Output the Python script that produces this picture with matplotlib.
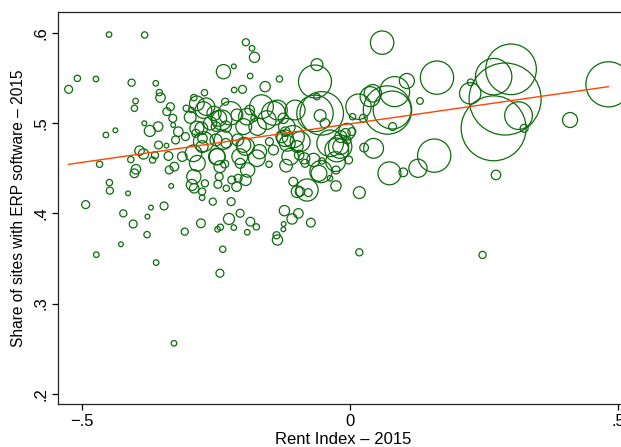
import matplotlib
matplotlib.use("Agg")
import matplotlib.pyplot as plt
import numpy as np

plt.rcParams['font.family'] = ['Liberation Sans', 'DejaVu Sans']

# rent index, share of sites with ERP, weight (number of sites)
rent = [
    -0.5255, -0.5092, -0.4745, -0.4501, -0.3836, -0.408, -0.3629, -0.3562, -0.354, -0.4006,
    -0.4028, -0.456, -0.4383, -0.3843, -0.374, -0.3585, -0.4678, -0.4095, -0.3932, -0.3999,
    -0.4028, -0.4494, -0.4486, -0.4146, -0.4937, -0.4235, -0.405, -0.4738, -0.4279, -0.3792,
    -0.3784, -0.3718, -0.3622, -0.3474, -0.3341, -0.3289, -0.3858, -0.3688, -0.3644, -0.3577,
    -0.3392, -0.3282, -0.3378, -0.3429, -0.3422, -0.3355, -0.3311, -0.3304, -0.3208, -0.3259,
    -0.3134, -0.3075, -0.306, -0.2986, -0.2919, -0.2964, -0.2882, -0.2853, -0.2919, -0.2956,
    -0.2912, -0.272, -0.269, -0.2779, -0.2764, -0.2757, -0.2712, -0.2764, -0.2764, -0.2565,
    -0.2786, -0.3089, -0.2542, -0.2506, -0.2454, -0.2506, -0.2483, -0.2432, -0.2446, -0.2469,
    -0.2476, -0.2424, -0.238, -0.2432, -0.2334, -0.2366, -0.2173, -0.2321, -0.2321, -0.2343,
    -0.2313, -0.2222, -0.2262, -0.2173, -0.221, -0.2166, -0.201, -0.1948, -0.1833, -0.1787,
    -0.1868, -0.2055, -0.1863, -0.1752, -0.1922, -0.2121, -0.2092, -0.1951, -0.1914, -0.2062,
    -0.2099, -0.1951, -0.1988, -0.2114, -0.1877, -0.1796, -0.1729, -0.1656, -0.1693, -0.1508,
    -0.1515, -0.1588, -0.136, -0.1434, -0.1321, -0.1249, -0.1212, -0.1175, -0.1197, -0.1064,
    -0.1027, -0.1064, -0.099, -0.0953, -0.099, -0.0806, -0.0783, -0.0843, -0.0857, -0.0939,
    -0.1228, -0.1086, -0.0968, -0.1358, -0.1375, -0.1249, -0.1242, -0.0735, -0.0658, -0.0621,
    -0.0621, -0.0658, -0.0532, -0.0562, -0.0473, -0.0532, -0.0584, -0.0547, -0.0377, -0.0266,
    -0.0266, -0.0273, -0.0251, -0.0177, -0.0177, -0.0089, -0.0059, 0.003, -0.003, 0.0044,
    0.017, 0.017, 0.0155, 0.0244, 0.0259, 0.0436, 0.0421, 0.0595, 0.0695, 0.0783,
    0.0828, 0.0791, 0.0732, 0.099, 0.1057, 0.1301, 0.1264, 0.1567, 0.1619, 0.2247,
    0.2239, 0.2676, 0.2676, 0.3001, 0.289, 0.3141, 0.3245, 0.272, 0.4102, 0.4819,
    0.2469,
    -0.224, -0.2396, -0.2739, -0.2862, -0.2614, -0.2862, -0.1929, -0.1556, -0.1215, -0.1276,
    -0.2366, -0.1993, -0.2739, -0.2925, -0.2489, -0.1743, -0.1433, -0.2054, -0.1183, -0.0935,
    -0.0375, -0.0188, -0.0063, -0.1121, -0.0687, 0.0371,
]
erp_share = [
    0.5375, 0.5497, 0.549, 0.5982, 0.5978, 0.5449, 0.5442, 0.5339, 0.5283, 0.5246,
    0.5165, 0.4869, 0.4921, 0.4999, 0.4914, 0.4962, 0.4544, 0.4596, 0.4695, 0.4489,
    0.4444, 0.4341, 0.4252, 0.4222, 0.4097, 0.4, 0.3882, 0.3542, 0.3657, 0.3764,
    0.3964, 0.4064, 0.3454, 0.4082, 0.4304, 0.2559, 0.4659, 0.4592, 0.4644, 0.4758,
    0.4636, 0.4518, 0.4481, 0.4751, 0.5128, 0.5183, 0.5054, 0.498, 0.4906, 0.4814,
    0.4629, 0.4851, 0.5165, 0.5065, 0.5283, 0.5146, 0.4888, 0.4555, 0.4407, 0.4315,
    0.4278, 0.5338, 0.5183, 0.4943, 0.474, 0.4832, 0.4333, 0.4241, 0.4174, 0.413,
    0.389, 0.3797, 0.5109, 0.4962, 0.5054, 0.4814, 0.4629, 0.4518, 0.4407, 0.4322,
    0.3823, 0.3846, 0.3602, 0.3336, 0.5238, 0.5571, 0.563, 0.4962, 0.4777, 0.4548,
    0.4278, 0.413, 0.3938, 0.3842, 0.437, 0.5368, 0.5375, 0.5897, 0.583, 0.573,
    0.5523, 0.4001, 0.3908, 0.385, 0.379, 0.4296, 0.4389, 0.437, 0.4481, 0.4629,
    0.4814, 0.474, 0.4962, 0.5091, 0.5146, 0.5054, 0.4962, 0.5183, 0.4684, 0.4795,
    0.4544, 0.5405, 0.5146, 0.5109, 0.549, 0.5054, 0.4906, 0.4777, 0.4529, 0.4352,
    0.5146, 0.4851, 0.474, 0.4647, 0.4241, 0.4259, 0.423, 0.4555, 0.461, 0.4241,
    0.403, 0.3938, 0.4, 0.3705, 0.3757, 0.3823, 0.3882, 0.3897, 0.5462, 0.5649,
    0.5294, 0.5109, 0.5109, 0.5084, 0.4999, 0.4581, 0.4444, 0.4463, 0.4389, 0.4304,
    0.4481, 0.4574, 0.4703, 0.474, 0.4851, 0.4888, 0.4814, 0.4906, 0.4592, 0.5072,
    0.423, 0.3568, 0.5183, 0.5054, 0.4729, 0.4721, 0.5331, 0.5893, 0.5146, 0.5146,
    0.535, 0.4962, 0.4444, 0.4455, 0.5468, 0.5246, 0.45, 0.464, 0.5505, 0.5453,
    0.5331, 0.4943, 0.5516, 0.5597, 0.5268, 0.5084, 0.4943, 0.4426, 0.5035, 0.5431,
    0.3539,
    0.511, 0.5035, 0.5146, 0.522, 0.4999, 0.4944, 0.5072, 0.5035, 0.4833, 0.485,
    0.4814, 0.4758, 0.4795, 0.4666, 0.4629, 0.4611, 0.4703, 0.4555, 0.4961, 0.4795,
    0.4777, 0.474, 0.4906, 0.4629, 0.4592, 0.5294,
]
sites = [
    15.7, 10, 7.7, 7.7, 10, 12.7, 7.7, 10, 22.6, 7.7,
    10, 7.7, 5.6, 5.6, 30.7, 22.6, 10, 10, 22.6, 22.6,
    19, 10, 12.7, 5.6, 15.7, 12.7, 15.7, 7.7, 5.6, 10,
    5.6, 5.6, 7.7, 15.7, 5.6, 7.7, 26.5, 10, 12.7, 15.7,
    19, 19, 15.7, 5.6, 15.7, 15.7, 15.7, 5.6, 22.6, 15.7,
    22.6, 15.7, 10, 35.3, 10, 7.7, 15.7, 62.7, 50.8, 30.7,
    22.6, 10, 75.9, 40, 35.3, 22.6, 12.7, 12.7, 7.7, 12.7,
    19, 12.7, 50.8, 22.6, 62.7, 35.3, 62.7, 35.3, 15.7, 15.7,
    7.7, 10, 10, 15.7, 12.7, 50.8, 5.6, 30.7, 22.6, 15.7,
    10, 15.7, 30.7, 7.7, 15.7, 7.7, 15.7, 12.7, 7.7, 26,
    7.7, 15.7, 19, 10, 7.7, 22.6, 15.7, 30.7, 50.8, 62.7,
    35.3, 75.9, 62.7, 35.3, 22.6, 10, 75.9, 141, 50.8, 15.7,
    10, 26.5, 98, 141, 10, 26.5, 22.6, 62.7, 40, 19,
    98, 123, 35.3, 22.6, 35.3, 123, 15.7, 15.7, 30.7, 22.6,
    26.5, 26.5, 22.6, 26.5, 12.7, 5.6, 5.6, 19, 272, 35.3,
    10, 332, 474, 35.3, 22.6, 10, 62.7, 123, 7.7, 26.5,
    15.7, 98, 141, 62.7, 35.3, 22.6, 15.7, 15.7, 15.7, 10,
    35.3, 12.7, 161, 15.7, 19, 98, 75.9, 137, 584, 361,
    226, 15.7, 132, 19, 56.6, 11, 83, 277, 277, 11,
    114, 1055, 332, 642, 1299, 192, 15.7, 22.6, 56.6, 510,
    12.7,
    137, 100, 69, 54, 44, 49, 69, 87, 69, 36,
    87, 54, 100, 69, 69, 69, 25, 25, 69, 100,
    177, 137, 69, 69, 44, 100,
]

# linear fit reported with the chart
fit_intercept = 0.4993
fit_slope = 0.0855

x = np.array(rent)
y = np.array(erp_share)
w = np.array(sites)

fig = plt.figure(figsize=(6.21, 4.47), dpi=100)
ax = fig.add_axes([0.0937, 0.0962, 0.919, 0.8776])

ax.scatter(x, y, s=w * 2.07, facecolors='none', edgecolors='#0d6b0d',
           linewidths=0.9, zorder=2)

xl = np.array([x.min(), x.max()])
ax.plot(xl, fit_intercept + fit_slope * xl, color='#ff4500', lw=1.0, zorder=3)

ax.set_xlim(-0.545, 0.52)
ax.set_ylim(0.1886, 0.6236)
ax.set_xticks([-0.5, 0, 0.5])
ax.set_xticklabels(['\u2212.5', '0', '.5'])
ax.set_yticks([0.2, 0.3, 0.4, 0.5, 0.6])
ax.set_yticklabels(['.2', '.3', '.4', '.5', '.6'], rotation=90, va='center')

ax.tick_params(direction='out', length=4.3, width=0.9, labelsize=12, pad=3)
for s in ax.spines.values():
    s.set_linewidth(0.9)
    s.set_color('#222222')

ax.set_xlabel('Rent Index \u2013 2015', fontsize=12, labelpad=2)
ax.set_ylabel('Share of sites with ERP software \u2013 2015', fontsize=11.2, labelpad=5)

fig.savefig('out.png', dpi=100)
